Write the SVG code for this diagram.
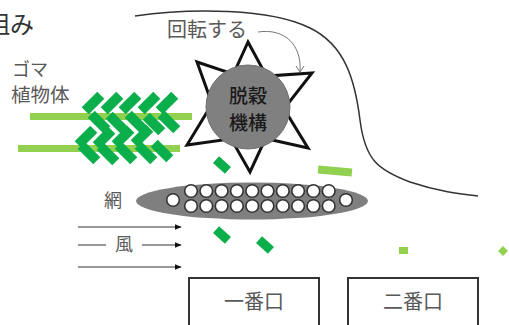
<svg xmlns="http://www.w3.org/2000/svg" xmlns:xlink="http://www.w3.org/1999/xlink" width="509" height="325" viewBox="0 0 509 325">
  <defs>
    <style>
      .lbl { font-family: "Noto Sans CJK JP", "Noto Sans CJK SC", sans-serif; fill: #595959; }
      .core { font-family: "Noto Sans CJK JP", "Noto Sans CJK SC", sans-serif; fill: #1a1a1a; font-weight: 500; }
      .dk { fill: #0aae4a; }
      .lt { fill: #92d050; }
      .wind { stroke: #333; stroke-width: 1; fill: none; marker-end: url(#tri); }
      .hole { fill: #fff; stroke: #333; stroke-width: 1.6; }
      .box { fill: #fff; stroke: #333; stroke-width: 2; }
    </style>
    <marker id="tri" viewBox="0 0 10 10" refX="9" refY="5" markerWidth="7" markerHeight="7" markerUnits="userSpaceOnUse" orient="auto">
      <path d="M0,1 L10,5 L0,9 Z" fill="#111"/>
    </marker>
    <marker id="chev" viewBox="0 0 10 10" refX="5" refY="9" markerWidth="10" markerHeight="10" markerUnits="userSpaceOnUse" orient="0">
      <path d="M1,3 L5,9 L9,3" fill="none" stroke="#777" stroke-width="1"/>
    </marker>
    <rect id="leaf" class="dk" x="-11" y="-5" width="22" height="10"/>
  </defs>

  <rect width="509" height="325" fill="#fff"/>

  <!-- title (runs off the left edge) -->
  <text x="-14" y="33" font-size="24" style="font-family: 'Noto Sans CJK JP', sans-serif; fill:#333;">組み</text>

  <!-- housing outline -->
  <path d="M135,16 C190,8 270,8 310,28 C345,45 355,80 360,120 C365,160 378,170 410,182 C440,192 460,194 478,196" fill="none" stroke="#333" stroke-width="1.5"/>

  <!-- sesame plant -->
  <g id="plant">
    <text class="lbl" x="12" y="76" font-size="18">ゴマ</text>
    <text class="lbl" x="11" y="102" font-size="19.5">植物体</text>
    <rect class="lt" x="30" y="113" width="162" height="7"/>
    <rect class="lt" x="18" y="145" width="162" height="7"/>
    <!-- row 1 -->
    <use xlink:href="#leaf" transform="translate(93,103) rotate(-45)"/>
    <use xlink:href="#leaf" transform="translate(112,103) rotate(-45)"/>
    <use xlink:href="#leaf" transform="translate(130,103) rotate(-45)"/>
    <use xlink:href="#leaf" transform="translate(149,103) rotate(-45)"/>
    <use xlink:href="#leaf" transform="translate(167,103) rotate(-45)"/>
    <!-- row 2 -->
    <use xlink:href="#leaf" transform="translate(99,122) rotate(45)"/>
    <use xlink:href="#leaf" transform="translate(117,123) rotate(45)"/>
    <use xlink:href="#leaf" transform="translate(136,122) rotate(45)"/>
    <use xlink:href="#leaf" transform="translate(154,124) rotate(45)"/>
    <use xlink:href="#leaf" transform="translate(169,122) rotate(45)"/>
    <!-- row 3 -->
    <use xlink:href="#leaf" transform="translate(86,137) rotate(-45)"/>
    <use xlink:href="#leaf" transform="translate(104,138) rotate(-45)"/>
    <use xlink:href="#leaf" transform="translate(123,137) rotate(-45)"/>
    <use xlink:href="#leaf" transform="translate(142,136) rotate(-45)"/>
    <!-- row 4 -->
    <use xlink:href="#leaf" transform="translate(89,153) rotate(45)"/>
    <use xlink:href="#leaf" transform="translate(108,154) rotate(45)"/>
    <use xlink:href="#leaf" transform="translate(126,153) rotate(45)"/>
    <use xlink:href="#leaf" transform="translate(146,153) rotate(45)"/>
    <use xlink:href="#leaf" transform="translate(162,151) rotate(45)"/>
  </g>

  <!-- loose pieces -->
  <g id="debris">
    <rect class="dk" x="-8" y="-4.5" width="16" height="9" transform="translate(222,165) rotate(42)"/>
    <rect class="dk" x="-8" y="-4.5" width="16" height="9" transform="translate(222,235) rotate(42)"/>
    <rect class="dk" x="-8" y="-4.5" width="16" height="9" transform="translate(265,245) rotate(42)"/>
    <rect class="lt" x="-17" y="-4" width="34" height="8" transform="translate(335,171) rotate(5)"/>
    <rect class="lt" x="399" y="247" width="9" height="7"/>
    <rect class="lt" x="-3.5" y="-3.5" width="7" height="7" transform="translate(503,251) rotate(45)"/>
  </g>

  <!-- threshing rotor -->
  <g id="rotor">
    <polygon points="248,42 266.5,76.1 312,73 284,108.9 308,148 265.5,138.5 250,172 231.1,138.8 187,145 212.1,103.9 197,62 233.4,74.1" fill="#fff" stroke="#111" stroke-width="3" stroke-linejoin="miter"/>
    <circle cx="248" cy="107" r="42" fill="#808080" stroke="#6e6e6e" stroke-width="1"/>
    <text class="core" x="248" y="103" font-size="19" text-anchor="middle">脱穀</text>
    <text class="core" x="248" y="130" font-size="19" text-anchor="middle">機構</text>
  </g>

  <g id="rotation">
    <text class="lbl" x="167" y="37" font-size="20">回転する</text>
  </g>

  <!-- sieve -->
  <g id="sieve">
    <text class="lbl" x="113" y="207" font-size="18" text-anchor="middle">網</text>
    <ellipse cx="252" cy="201" rx="116" ry="18.5" fill="#7f7f7f"/>
    <circle class="hole" cx="173" cy="200" r="6.3"/>
    <circle class="hole" cx="346" cy="200" r="6.3"/>
    <g id="holes-top">
      <circle class="hole" cx="191" cy="191" r="6.3"/>
      <circle class="hole" cx="206.3" cy="191" r="6.3"/>
      <circle class="hole" cx="221.6" cy="191" r="6.3"/>
      <circle class="hole" cx="236.9" cy="191" r="6.3"/>
      <circle class="hole" cx="252.2" cy="191" r="6.3"/>
      <circle class="hole" cx="267.5" cy="191" r="6.3"/>
      <circle class="hole" cx="282.8" cy="191" r="6.3"/>
      <circle class="hole" cx="298.1" cy="191" r="6.3"/>
      <circle class="hole" cx="313.4" cy="191" r="6.3"/>
      <circle class="hole" cx="328.7" cy="191" r="6.3"/>
    </g>
    <g id="holes-bottom">
      <circle class="hole" cx="191" cy="206" r="6.3"/>
      <circle class="hole" cx="206.3" cy="206" r="6.3"/>
      <circle class="hole" cx="221.6" cy="206" r="6.3"/>
      <circle class="hole" cx="236.9" cy="206" r="6.3"/>
      <circle class="hole" cx="252.2" cy="206" r="6.3"/>
      <circle class="hole" cx="267.5" cy="206" r="6.3"/>
      <circle class="hole" cx="282.8" cy="206" r="6.3"/>
      <circle class="hole" cx="298.1" cy="206" r="6.3"/>
      <circle class="hole" cx="313.4" cy="206" r="6.3"/>
      <circle class="hole" cx="328.7" cy="206" r="6.3"/>
    </g>
  </g>

  <!-- outlets -->
  <g id="outlet1">
    <rect class="box" x="189" y="278" width="130" height="60"/>
    <text class="lbl" x="254" y="309" font-size="20" text-anchor="middle">一番口</text>
  </g>
  <g id="outlet2">
    <rect class="box" x="348" y="278" width="130" height="60"/>
    <text class="lbl" x="413" y="309" font-size="20" text-anchor="middle">二番口</text>
  </g>

  <!-- connectors -->
  <g id="connectors">
    <path d="M258,32 C285,28 302,45 300,72" fill="none" stroke="#777" stroke-width="1" marker-end="url(#chev)"/>
    <line class="wind" x1="78" y1="227" x2="181" y2="227"/>
    <line class="wind" x1="78" y1="245" x2="181" y2="245"/>
    <line class="wind" x1="78" y1="267" x2="181" y2="267"/>
  </g>

  <g id="wind-label">
    <rect x="106" y="234" width="36" height="22" fill="#fff"/>
    <text class="lbl" x="124" y="251" font-size="18" text-anchor="middle">風</text>
  </g>
</svg>
